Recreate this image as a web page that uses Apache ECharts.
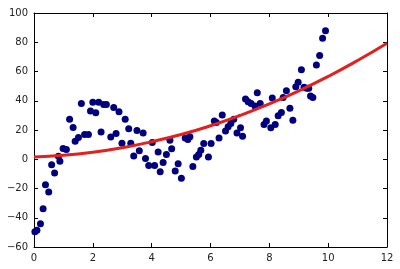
<!DOCTYPE html>
<html>
<head>
<meta charset="utf-8">
<script src="https://cdn.jsdelivr.net/npm/echarts@6/dist/echarts.min.js"></script>
<style>html,body{margin:0;padding:0;background:#fff}#c{width:400px;height:269px}</style>
</head>
<body>
<div id="c"></div>
<script>
var xTicks = [0, 2, 4, 6, 8, 10, 12];
var yTicks = [-60, -40, -20, 0, 20, 40, 60, 80, 100];

var pointX = [0.03, 0.1, 0.22, 0.31, 0.39, 0.5, 0.6, 0.7, 0.83, 0.88, 0.99, 1.1, 1.21, 1.33, 1.4, 1.51, 1.61, 1.72, 1.85, 1.92, 2.0, 2.1, 2.2, 2.28, 2.37, 2.46, 2.61, 2.71, 2.79, 2.89, 2.99, 3.1, 3.22, 3.29, 3.39, 3.5, 3.58, 3.71, 3.79, 3.9, 4.02, 4.1, 4.22, 4.29, 4.39, 4.5, 4.62, 4.68, 4.8, 4.9, 5.01, 5.14, 5.23, 5.3, 5.4, 5.52, 5.6, 5.67, 5.77, 5.93, 6.02, 6.13, 6.2, 6.29, 6.4, 6.51, 6.6, 6.69, 6.79, 6.9, 7.02, 7.09, 7.19, 7.28, 7.38, 7.51, 7.59, 7.69, 7.82, 7.9, 8.05, 8.1, 8.2, 8.3, 8.41, 8.47, 8.58, 8.7, 8.8, 8.9, 8.98, 9.09, 9.18, 9.27, 9.34, 9.4, 9.48, 9.6, 9.71, 9.81, 9.91];
var pointY = [-49.5, -48.5, -44.1, -33.8, -17.4, -22.4, -3.7, -9.4, 2.1, -1.4, 7.3, 6.6, 27.4, 21.7, 12.3, 14.9, 38.2, 16.9, 16.9, 33.0, 38.9, 31.8, 38.9, 18.7, 37.5, 37.5, 15.2, 35.3, 17.6, 32.4, 10.9, 27.4, 20.9, 10.9, 2.3, 19.6, 5.8, 18.0, 0.5, -4.2, 11.4, -4.2, 5.0, -8.5, -2.3, 3.2, 13.0, 7.1, -8.0, -3.0, -13.0, 14.6, 13.5, 15.3, -5.0, 1.6, 3.2, 6.2, 10.8, 1.6, 10.8, 26.2, 25.2, 14.6, 30.2, 19.4, 22.2, 24.5, 27.4, 18.0, 21.5, 15.8, 41.2, 39.3, 38.2, 36.4, 45.5, 38.2, 23.8, 26.1, 21.5, 41.8, 23.8, 29.7, 32.0, 42.3, 46.8, 34.8, 26.7, 49.6, 52.6, 61.2, 49.2, 48.5, 48.5, 43.2, 42.3, 64.5, 70.9, 82.8, 87.8];

var curveX = [0, 1, 2, 3, 4, 5, 6, 7, 8, 9, 10, 11, 12];
var curveY = [1.6, 2.7, 4.8, 7.9, 12.0, 16.9, 22.9, 29.9, 37.8, 46.7, 56.6, 67.5, 79.3];

var scatterData = pointX.map(function (x, i) { return [x, pointY[i]]; });
var curveData = curveX.map(function (x, i) { return [x, curveY[i]]; });

var font = 'DejaVu Sans';
function fmt(v) { return String(v).replace('-', '\u2212'); }
function axisCommon(extra) {
  var base = {
    type: 'value',
    axisLine: { show: true, onZero: false, lineStyle: { color: '#000', width: 1 } },
    axisTick: { show: true, inside: true, length: 4, lineStyle: { color: '#000', width: 1 } },
    splitLine: { show: false },
    axisLabel: { color: '#222', fontSize: 10, fontFamily: font, margin: 6, formatter: fmt }
  };
  for (var k in extra) base[k] = extra[k];
  return base;
}

var chart = echarts.init(document.getElementById('c'), null, { renderer: 'canvas' });
chart.setOption({
  animation: false,
  backgroundColor: '#fff',
  grid: { left: 34, right: 13, top: 13, bottom: 22, containLabel: false },
  xAxis: [
    axisCommon({ position: 'bottom', min: xTicks[0], max: xTicks[xTicks.length - 1], interval: 2 }),
    axisCommon({ position: 'top', min: xTicks[0], max: xTicks[xTicks.length - 1], interval: 2, axisLabel: { show: false } })
  ],
  yAxis: [
    axisCommon({ position: 'left', min: yTicks[0], max: yTicks[yTicks.length - 1], interval: 20 }),
    axisCommon({ position: 'right', min: yTicks[0], max: yTicks[yTicks.length - 1], interval: 20, axisLabel: { show: false } })
  ],
  series: [
    {
      type: 'scatter',
      xAxisIndex: 0, yAxisIndex: 0,
      data: scatterData,
      symbol: 'circle',
      symbolSize: 7,
      itemStyle: { color: '#00007f', opacity: 1 },
      z: 2
    },
    {
      type: 'line',
      xAxisIndex: 0, yAxisIndex: 0,
      data: curveData,
      smooth: true,
      showSymbol: false,
      lineStyle: { color: '#e3201c', width: 3 },
      z: 3
    }
  ]
});
</script>
</body>
</html>
